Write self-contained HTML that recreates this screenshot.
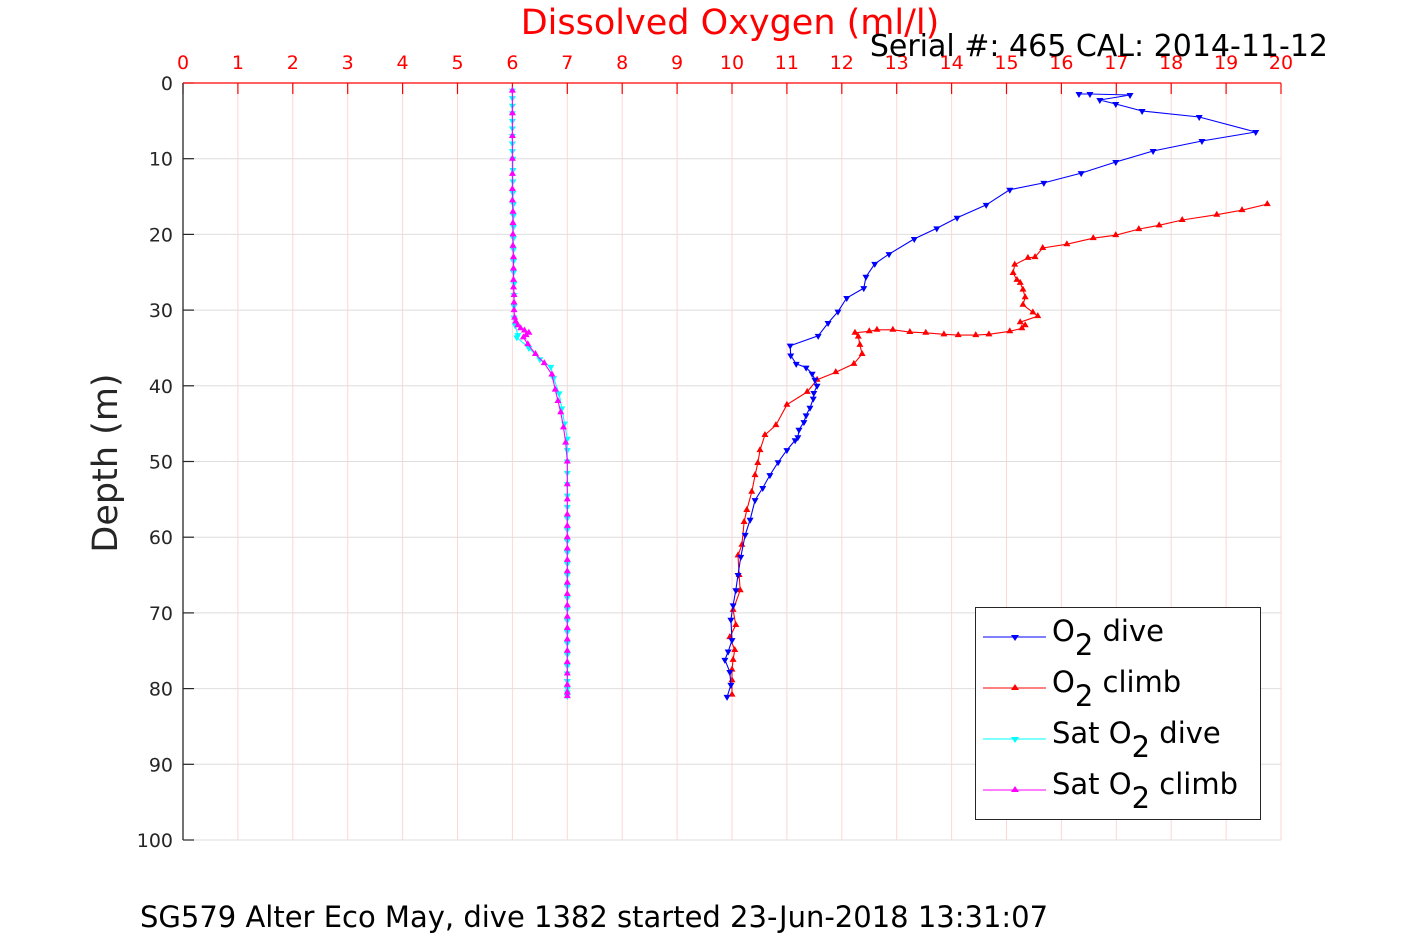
<!DOCTYPE html>
<html><head><meta charset="utf-8"><style>
html,body{margin:0;padding:0;background:#fff;}
svg{display:block;font-family:"DejaVu Sans","Liberation Sans",sans-serif;}
</style></head><body>
<svg id="chart" width="1417" height="945" viewBox="0 0 1417 945" xmlns="http://www.w3.org/2000/svg">
<rect width="1417" height="945" fill="#fff"/>
<g id="grid"></g>
<g id="axes"></g>
<g id="series"></g>
<text x="730" y="34" font-size="35" fill="#ff0000" text-anchor="middle">Dissolved Oxygen (ml/l)</text>
<text x="1328" y="56" font-size="30" fill="#000" text-anchor="end">Serial #: 465  CAL: 2014-11-12</text>
<text transform="translate(117,463) rotate(-90)" font-size="35" fill="#262626" text-anchor="middle">Depth (m)</text>
<text x="140" y="927" font-size="29" fill="#000">SG579 Alter Eco May, dive 1382 started 23-Jun-2018 13:31:07</text>
<g>
<rect x="975.5" y="607.5" width="285" height="212" fill="#fff" stroke="#262626" stroke-width="1"/>
<g>
<line x1="983" y1="637" x2="1046" y2="637" stroke="#0000ff" stroke-width="1"/><polygon points="1011,635 1019,635 1015,641" fill="#0000ff"/>
<text x="1052" y="641" font-size="29" fill="#000">O<tspan font-size="29" dy="14">2</tspan><tspan dy="-14"> dive</tspan></text></g>
<g>
<line x1="983" y1="688" x2="1046" y2="688" stroke="#ff0000" stroke-width="1"/><polygon points="1011,690 1019,690 1015,684" fill="#ff0000"/>
<text x="1052" y="692" font-size="29" fill="#000">O<tspan dy="14">2</tspan><tspan dy="-14"> climb</tspan></text></g>
<g>
<line x1="983" y1="739" x2="1046" y2="739" stroke="#00ffff" stroke-width="1"/><polygon points="1011,737 1019,737 1015,743" fill="#00ffff"/>
<text x="1052" y="743" font-size="29" fill="#000">Sat O<tspan dy="14">2</tspan><tspan dy="-14"> dive</tspan></text></g>
<g>
<line x1="983" y1="790" x2="1046" y2="790" stroke="#ff00ff" stroke-width="1"/><polygon points="1011,792 1019,792 1015,786" fill="#ff00ff"/>
<text x="1052" y="794" font-size="29" fill="#000">Sat O<tspan dy="14">2</tspan><tspan dy="-14"> climb</tspan></text></g>
</g>
</svg>
<script>
const xTicks=[0,1,2,3,4,5,6,7,8,9,10,11,12,13,14,15,16,17,18,19,20];
const yTicks=[0,10,20,30,40,50,60,70,80,90,100];
const o2DiveX=[16.32,16.52,17.25,16.70,16.99,17.47,18.51,19.54,18.56,17.67,16.99,16.36,15.68,15.06,14.63,14.10,13.73,13.32,12.86,12.60,12.44,12.40,12.09,11.93,11.75,11.57,11.06,11.07,11.17,11.35,11.46,11.51,11.55,11.49,11.48,11.42,11.35,11.31,11.22,11.20,11.15,11.00,10.84,10.69,10.56,10.42,10.33,10.24,10.16,10.11,10.07,10.02,9.98,10.00,9.93,9.87,9.96,9.98,9.91];
const o2DiveD=[1.45,1.45,1.59,2.25,2.77,3.7,4.49,6.47,7.66,8.98,10.44,11.9,13.2,14.1,16.1,17.8,19.2,20.6,22.6,23.9,25.6,27.1,28.4,30.2,31.7,33.4,34.7,36.0,37.1,37.6,38.4,39.2,40.0,40.95,41.7,42.9,43.9,44.8,45.8,46.8,47.2,48.5,50.1,51.8,53.5,55.1,57.7,59.7,62.6,65.0,67.0,69.0,70.9,73.6,75.1,76.2,77.8,79.5,81.1];
const o2ClimbX=[19.75,19.29,18.83,18.20,17.78,17.41,16.99,16.58,16.10,15.66,15.52,15.39,15.15,15.12,15.19,15.25,15.30,15.34,15.30,15.48,15.57,15.25,15.34,15.28,15.06,14.68,14.44,14.12,13.86,13.53,13.24,12.93,12.64,12.50,12.24,12.30,12.33,12.37,12.22,11.89,11.55,11.37,11.00,10.80,10.60,10.51,10.47,10.42,10.36,10.27,10.22,10.18,10.11,10.13,10.15,10.02,10.07,9.96,10.05,10.02,10.00,10.00,10.00];
const o2ClimbD=[16.0,16.8,17.4,18.1,18.8,19.3,20.1,20.5,21.3,21.8,23.0,23.1,24.0,25.1,26.0,26.4,27.3,28.3,29.3,30.3,30.8,31.6,32.0,32.4,32.8,33.2,33.3,33.3,33.2,33.0,32.9,32.6,32.6,32.8,33.0,33.5,34.6,35.8,37.1,38.2,39.2,40.8,42.5,45.2,46.5,48.5,50.2,51.8,54.0,56.4,58.0,61.0,62.4,65.0,67.0,69.6,71.6,73.2,74.9,76.2,77.5,78.9,80.8];
const satDiveX=[6.00,6.00,6.00,6.00,6.00,6.00,6.00,6.00,6.00,6.01,6.01,6.01,6.01,6.02,6.02,6.02,6.02,6.02,6.02,6.02,6.03,6.03,6.03,6.03,6.05,6.10,6.08,6.30,6.50,6.70,6.75,6.85,6.90,6.95,7.00,7.00,7.00,7.00,7.00,7.00,7.00,7.00,7.00,7.00,7.00,7.00,7.00,7.00,7.00,7.00,7.00,7.00,7.00,7.00,7.00,7.00,7.00,7.00,7.00,7.00];
const satDiveD=[1,2,3,4,5,6,7,8,9,10,11.5,13,14.5,16,17.5,19,20.5,22,23.5,25,26.5,28,29.5,31,32,33.3,33.6,35,36.5,37.5,39,41,43,45,47,48.5,50,51.5,53,54.5,56,57.5,59,60.5,62,63.5,65,66.5,68,69.5,71,72.5,74,75.5,77,78,79,80,80.5,81];
const satClimbX=[7.00,7.00,7.00,7.00,7.00,7.00,7.00,7.00,7.00,7.00,7.00,7.00,7.00,7.00,7.00,7.00,7.00,7.00,7.00,7.00,7.00,6.97,6.93,6.88,6.83,6.78,6.72,6.58,6.42,6.28,6.20,6.25,6.30,6.22,6.15,6.10,6.06,6.04,6.03,6.03,6.03,6.02,6.02,6.02,6.02,6.01,6.01,6.01,6.01,6.00,6.00,6.00,6.00,6.00,6.00,6.00];
const satClimbD=[81,80.5,79.5,78,76.5,75,73.5,72,70.5,69,67.5,66,64.5,63,61.5,60,58.5,57,55,53,50,47.5,45.5,43.5,42,40.5,38.5,37,35.8,34.5,33.6,33.3,33.0,32.7,32.4,32.0,31.5,31,30,29,28,27,26,24.5,23,21.5,20,18.5,17,15.5,14,12,10,7,4,1];

const X0=183,X1=1281,Y0=83,Y1=840;
const sx=v=>X0+(v-0)/(20-0)*(X1-X0);
const sy=v=>Y0+(v-0)/(100-0)*(Y1-Y0);
const NS='http://www.w3.org/2000/svg';
function mk(tag,attrs,parent){const e=document.createElementNS(NS,tag);for(const k in attrs)e.setAttribute(k,attrs[k]);parent.appendChild(e);return e;}
const grid=document.getElementById('grid'),axes=document.getElementById('axes'),series=document.getElementById('series');
xTicks.forEach(t=>{
 const l=mk('line',{x1:sx(t),x2:sx(t),y1:Y0,y2:Y1,stroke:'#ffd6d6','stroke-width':1},grid);
 
 
 const tk=mk('line',{x1:sx(t),x2:sx(t),y1:Y0,y2:Y0+11,stroke:'#ff0000','stroke-width':1.2},axes);
 
 
 const tx=mk('text',{x:sx(t),y:69,'font-size':19,fill:'#ff0000','text-anchor':'middle'},axes);
 tx.textContent=t;
 
 
});
yTicks.forEach(t=>{
 const l=mk('line',{x1:X0,x2:X1,y1:sy(t),y2:sy(t),stroke:'#dedede','stroke-width':1},grid);
 
 
 const tk=mk('line',{x1:X0,x2:X0+11,y1:sy(t),y2:sy(t),stroke:'#262626','stroke-width':1.2},axes);
 
 
 const tx=mk('text',{x:173,y:sy(t)+7,'font-size':19,fill:'#262626','text-anchor':'end'},axes);
 tx.textContent=t;
 
 
});
const la=mk('line',{x1:X0,x2:X0,y1:Y0,y2:Y1,stroke:'#262626','stroke-width':1.3},axes);


const ta=mk('line',{x1:X0,x2:X1,y1:Y0,y2:Y0,stroke:'#ff0000','stroke-width':1.3},axes);



function drawSeries(xs,ds,color,down,name){
 const g=mk('g',{},series);
 
 
 const pts=xs.map((v,i)=>sx(v).toFixed(1)+','+sy(ds[i]).toFixed(1)).join(' ');
 const pl=mk('polyline',{points:pts,fill:'none',stroke:color,'stroke-width':1.1},g);
 
 
 xs.forEach((v,i)=>{
  const x=sx(v),y=sy(ds[i]);
  const p=down?`${x-3.5},${y-2} ${x+3.5},${y-2} ${x},${y+4}`:`${x-3.5},${y+2} ${x+3.5},${y+2} ${x},${y-4}`;
  const m=mk('polygon',{points:p,fill:color},g);
  
  
 });
}
drawSeries(satDiveX,satDiveD,'#00ffff',true,'sat-o2-dive');
drawSeries(satClimbX,satClimbD,'#ff00ff',false,'sat-o2-climb');
drawSeries(o2ClimbX,o2ClimbD,'#ff0000',false,'o2-climb');
drawSeries(o2DiveX,o2DiveD,'#0000ff',true,'o2-dive');
</script>
</body></html>
